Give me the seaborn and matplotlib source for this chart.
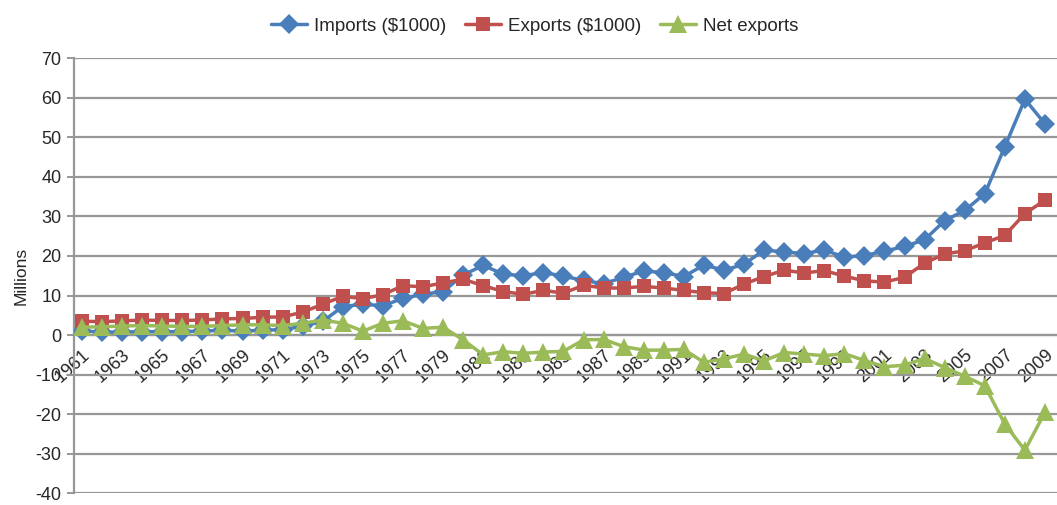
import numpy as np
import pandas as pd
import matplotlib
matplotlib.use("Agg")
import matplotlib.pyplot as plt
from matplotlib.ticker import FixedLocator
import seaborn as sns

# Annual trade figures, in millions
years = list(range(1961, 2010))

imports_1000 = [
    1.0, 0.8, 0.7, 0.9, 0.8, 0.9, 1.0, 1.2, 1.0, 1.2,
    1.4, 2.2, 3.5, 7.2, 7.8, 7.4, 9.3, 10.3, 11.0, 15.2,
    17.6, 15.4, 15.0, 15.8, 14.9, 13.8, 13.0, 14.6, 16.2, 15.8,
    14.8, 17.7, 16.4, 17.9, 21.5, 21.0, 20.6, 21.5, 19.7, 20.1,
    21.2, 22.4, 24.1, 28.9, 31.5, 35.7, 47.6, 59.6, 53.4,
]

exports_1000 = [
    3.5, 3.4, 3.6, 3.8, 3.7, 3.7, 3.8, 4.1, 4.2, 4.5,
    4.6, 5.8, 7.8, 9.8, 9.2, 10.2, 12.5, 12.2, 13.2, 14.1,
    12.5, 11.0, 10.3, 11.3, 10.6, 12.6, 11.9, 11.9, 12.3, 11.9,
    11.3, 10.7, 10.5, 12.9, 14.8, 16.4, 15.7, 16.3, 14.9, 13.7,
    13.4, 14.6, 18.2, 20.5, 21.3, 23.3, 25.2, 30.7, 34.1,
]

net_exports = [
    2.0, 2.1, 2.3, 2.4, 2.3, 2.2, 2.2, 2.4, 2.6, 2.6,
    2.4, 3.0, 3.8, 3.0, 1.0, 3.0, 3.6, 1.7, 2.0, -1.2,
    -5.0, -4.2, -4.6, -4.3, -4.1, -1.2, -1.1, -2.9, -3.8, -3.8,
    -3.6, -6.9, -6.0, -4.8, -6.5, -4.4, -4.8, -5.2, -4.7, -6.4,
    -8.0, -7.6, -5.9, -8.2, -10.4, -12.8, -22.5, -29.1, -19.5,
]

series_names = ["Imports ($1000)", "Exports ($1000)", "Net exports"]
y_ticks = list(range(-40, 71, 10))

df = pd.DataFrame({
    "year": years * 3,
    "value": imports_1000 + exports_1000 + net_exports,
    "series": np.repeat(series_names, len(years)),
})

palette = {"Imports ($1000)": "#4a7ebb",
           "Exports ($1000)": "#c0504d",
           "Net exports": "#9bbb59"}
markers = {"Imports ($1000)": "D",
           "Exports ($1000)": "s",
           "Net exports": "^"}
sizes = {"Imports ($1000)": 10.5,
         "Exports ($1000)": 9.5,
         "Net exports": 13.5}

sns.set_theme(style="white")
plt.rcParams["font.family"] = ["Liberation Sans", "DejaVu Sans"]

fig = plt.figure(figsize=(10.57, 5.05), dpi=100)
ax = fig.add_axes([0.070, 0.023, 0.930, 0.862])

for name in series_names:
    sub = df[df["series"] == name]
    sns.lineplot(data=sub, x="year", y="value", ax=ax, color=palette[name],
                 marker=markers[name], markersize=sizes[name],
                 markeredgewidth=0, linewidth=2.5, label=name,
                 legend=False, zorder=3)

grid_c = "#979797"
text_c = "#262626"
ax.set_ylim(-40, 70)
ax.set_xlim(1960.6, 2009.6)
ax.yaxis.set_major_locator(FixedLocator(y_ticks))
ax.set_yticklabels([str(v) for v in y_ticks], fontsize=13, color=text_c)
ax.grid(axis="y", color=grid_c, linewidth=1.6, zorder=0)
ax.grid(axis="x", visible=False)

# category axis crossing at zero
for side in ["top", "right"]:
    ax.spines[side].set_visible(False)
ax.spines["left"].set_color(grid_c)
ax.spines["left"].set_linewidth(1.6)
ax.spines["bottom"].set_position(("data", 0))
ax.spines["bottom"].set_color(grid_c)
ax.spines["bottom"].set_linewidth(1.6)

label_years = years[::2]
ax.xaxis.set_major_locator(FixedLocator(label_years))
ax.set_xticklabels([str(y) for y in label_years], rotation=42, ha="right",
                   rotation_mode="anchor", fontsize=13, color=text_c)
ax.xaxis.set_minor_locator(FixedLocator([y + 0.5 for y in years[:-1]]))
ax.tick_params(axis="x", which="major", length=0, pad=8)
ax.tick_params(axis="x", which="minor", length=5, width=1.4, color=grid_c,
               direction="out")
ax.tick_params(axis="y", which="major", length=5, width=1.4, color=grid_c,
               direction="out", left=True, pad=4)

ax.set_xlabel("")
ax.set_ylabel("Millions", fontsize=12.5, color=text_c, labelpad=5)

handles, labels = ax.get_legend_handles_labels()
fig.legend(handles, labels, loc="center", bbox_to_anchor=(0.506, 0.948),
           ncol=3, frameon=False, fontsize=13.5, handlelength=1.9,
           columnspacing=1.0, handletextpad=0.4, labelcolor=text_c)

fig.savefig("out.png", dpi=100)
